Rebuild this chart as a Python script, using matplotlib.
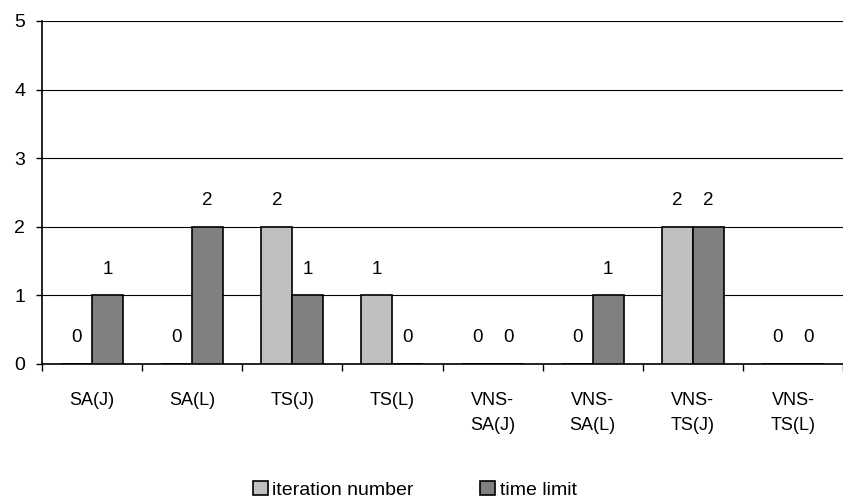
import matplotlib
matplotlib.use("Agg")
import matplotlib.pyplot as plt
import numpy as np

categories = ["SA(J)", "SA(L)", "TS(J)", "TS(L)", "VNS-\nSA(J)", "VNS-\nSA(L)", "VNS-\nTS(J)", "VNS-\nTS(L)"]
iteration_number = [0, 0, 2, 1, 0, 0, 2, 0]
time_limit = [1, 2, 1, 0, 0, 1, 2, 0]
series_names = ["iteration number", "time limit"]
yticks = [0, 1, 2, 3, 4, 5]

plt.rcParams['font.family'] = ['Liberation Sans', 'DejaVu Sans']

fig = plt.figure(figsize=(8.43, 5.01), dpi=100)
ax = fig.add_axes([42 / 843, 1 - 364 / 501, 1 - 42 / 843, (364 - 21) / 501])

x = np.arange(len(categories))
w = 0.31
b1 = ax.bar(x - w / 2, iteration_number, w, color="#c0c0c0", edgecolor="black", linewidth=1.2,
            label=series_names[0], zorder=3)
b2 = ax.bar(x + w / 2, time_limit, w, color="#808080", edgecolor="black", linewidth=1.2,
            label=series_names[1], zorder=3)

for bars, vals in ((b1, iteration_number), (b2, time_limit)):
    for rect, v in zip(bars, vals):
        ax.annotate(f"{v}", (rect.get_x() + rect.get_width() / 2, v),
                    xytext=(0, 19), textcoords="offset points", ha="center", va="center",
                    fontsize=13.5)

ax.set_xlim(-0.5, len(categories) - 0.5)
ax.set_ylim(0, 5)
ax.set_yticks(yticks)
ax.set_yticklabels([str(t) for t in yticks], fontsize=14)
ax.yaxis.grid(True, color="black", linewidth=0.8, zorder=0)
ax.set_axisbelow(True)

# category ticks sit between groups; names are centred under each group
ax.set_xticks(np.arange(len(categories) + 1) - 0.5)
ax.set_xticklabels([])
ax.set_xticks(x, minor=True)
ax.set_xticklabels(categories, minor=True, fontsize=13, linespacing=1.6, va="top")
ax.tick_params(axis="x", which="major", direction="out", length=5, width=1, color="black")
ax.tick_params(axis="x", which="minor", length=0, pad=20)
ax.tick_params(axis="y", direction="out", length=4, width=1, pad=8)

for side in ("top", "right"):
    ax.spines[side].set_visible(False)
for side in ("left", "bottom"):
    ax.spines[side].set_linewidth(1.2)

fig.legend(handles=[b1, b2], loc="center", bbox_to_anchor=(0.492, 1 - 490 / 501), ncol=2,
           frameon=False, fontsize=14, handlelength=0.75, handleheight=0.75, handletextpad=0.25,
           columnspacing=3.4, borderpad=0)

fig.savefig("out.png", dpi=100)
